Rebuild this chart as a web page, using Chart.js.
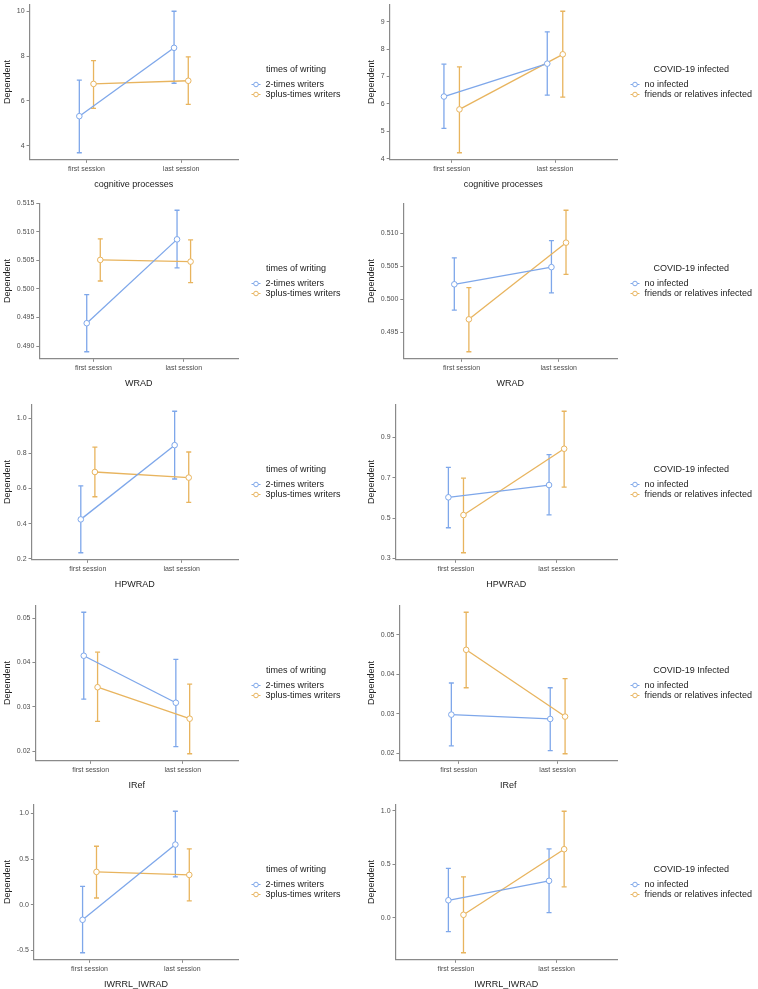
<!DOCTYPE html>
<html>
<head>
<meta charset="utf-8">
<script src="https://cdn.jsdelivr.net/npm/chart.js@4.4.0/dist/chart.umd.min.js"></script>
<style>
  body { margin: 0; background: #fff; }
  #page { position: relative; width: 758px; height: 989px; overflow: hidden; }
  #page canvas { position: absolute; }
</style>
</head>
<body>
<div id="page"></div>
<script>
// categories
const sessions = ['first session', 'last session'];
const writingGroups = ['2-times writers', '3plus-times writers'];
const infectedGroups = ['no infected', 'friends or relatives infected'];

// cognitive processes, times of writing  (rows = groups, cols = sessions)
const cogWritingMean = [[5.32, 8.37], [6.76, 6.90]];
const cogWritingLow = [[3.69, 6.79], [5.67, 5.85]];
const cogWritingHigh = [[6.93, 10.0], [7.80, 7.97]];
const cogWritingTicks = ['4', '6', '8', '10'];

// cognitive processes, COVID-19 infected
const cogInfectedMean = [[6.27, 7.47], [5.80, 7.81]];
const cogInfectedLow = [[5.11, 6.32], [4.22, 6.25]];
const cogInfectedHigh = [[7.45, 8.63], [7.35, 9.38]];
const cogInfectedTicks = ['4', '5', '6', '7', '8', '9'];

// WRAD
const wradWritingMean = [[0.4940, 0.5087], [0.5051, 0.5048]];
const wradWritingLow = [[0.4890, 0.5037], [0.5014, 0.5011]];
const wradWritingHigh = [[0.4990, 0.5138], [0.5088, 0.5086]];
const wradWritingTicks = ['0.490', '0.495', '0.500', '0.505', '0.510', '0.515'];

const wradInfectedMean = [[0.5023, 0.5049], [0.4970, 0.5086]];
const wradInfectedLow = [[0.4984, 0.5010], [0.4921, 0.5038]];
const wradInfectedHigh = [[0.5063, 0.5089], [0.5018, 0.5135]];
const wradInfectedTicks = ['0.495', '0.500', '0.505', '0.510'];

// HPWRAD
const hpwradWritingMean = [[0.424, 0.847], [0.694, 0.662]];
const hpwradWritingLow = [[0.234, 0.654], [0.553, 0.521]];
const hpwradWritingHigh = [[0.615, 1.040], [0.836, 0.808]];
const hpwradWritingTicks = ['0.2', '0.4', '0.6', '0.8', '1.0'];

const hpwradInfectedMean = [[0.603, 0.664], [0.515, 0.844]];
const hpwradInfectedLow = [[0.452, 0.516], [0.328, 0.654]];
const hpwradInfectedHigh = [[0.752, 0.815], [0.698, 1.030]];
const hpwradInfectedTicks = ['0.3', '0.5', '0.7', '0.9'];

// IRef
const irefWritingMean = [[0.0415, 0.0309], [0.0344, 0.0273]];
const irefWritingLow = [[0.0317, 0.0210], [0.0267, 0.0194]];
const irefWritingHigh = [[0.0513, 0.0407], [0.0423, 0.0351]];
const irefWritingTicks = ['0.02', '0.03', '0.04', '0.05'];

const irefInfectedMean = [[0.0298, 0.0287], [0.0462, 0.0293]];
const irefInfectedLow = [[0.0219, 0.0207], [0.0366, 0.0199]];
const irefInfectedHigh = [[0.0378, 0.0366], [0.0557, 0.0389]];
const irefInfectedTicks = ['0.02', '0.03', '0.04', '0.05'];

// IWRRL_IWRAD
const iwrrlWritingMean = [[-0.167, 0.659], [0.359, 0.326]];
const iwrrlWritingLow = [[-0.529, 0.304], [0.072, 0.040]];
const iwrrlWritingHigh = [[0.199, 1.025], [0.641, 0.612]];
const iwrrlWritingTicks = ['-0.5', '0.0', '0.5', '1.0'];

const iwrrlInfectedMean = [[0.164, 0.346], [0.028, 0.642]];
const iwrrlInfectedLow = [[-0.130, 0.049], [-0.327, 0.290]];
const iwrrlInfectedHigh = [[0.463, 0.645], [0.383, 0.997]];
const iwrrlInfectedTicks = ['0.0', '0.5', '1.0'];

const panels = [
    {measure: 'cognitive processes', groups: writingGroups, title: 'times of writing', mean: cogWritingMean, low: cogWritingLow, high: cogWritingHigh, ticks: cogWritingTicks},
    {measure: 'cognitive processes', groups: infectedGroups, title: 'COVID-19 infected', mean: cogInfectedMean, low: cogInfectedLow, high: cogInfectedHigh, ticks: cogInfectedTicks},
    {measure: 'WRAD', groups: writingGroups, title: 'times of writing', mean: wradWritingMean, low: wradWritingLow, high: wradWritingHigh, ticks: wradWritingTicks},
    {measure: 'WRAD', groups: infectedGroups, title: 'COVID-19 infected', mean: wradInfectedMean, low: wradInfectedLow, high: wradInfectedHigh, ticks: wradInfectedTicks},
    {measure: 'HPWRAD', groups: writingGroups, title: 'times of writing', mean: hpwradWritingMean, low: hpwradWritingLow, high: hpwradWritingHigh, ticks: hpwradWritingTicks},
    {measure: 'HPWRAD', groups: infectedGroups, title: 'COVID-19 infected', mean: hpwradInfectedMean, low: hpwradInfectedLow, high: hpwradInfectedHigh, ticks: hpwradInfectedTicks},
    {measure: 'IRef', groups: writingGroups, title: 'times of writing', mean: irefWritingMean, low: irefWritingLow, high: irefWritingHigh, ticks: irefWritingTicks},
    {measure: 'IRef', groups: infectedGroups, title: 'COVID-19 Infected', mean: irefInfectedMean, low: irefInfectedLow, high: irefInfectedHigh, ticks: irefInfectedTicks},
    {measure: 'IWRRL_IWRAD', groups: writingGroups, title: 'times of writing', mean: iwrrlWritingMean, low: iwrrlWritingLow, high: iwrrlWritingHigh, ticks: iwrrlWritingTicks},
    {measure: 'IWRRL_IWRAD', groups: infectedGroups, title: 'COVID-19 infected', mean: iwrrlInfectedMean, low: iwrrlInfectedLow, high: iwrrlInfectedHigh, ticks: iwrrlInfectedTicks}
];

const colors = ['#7ea7ea', '#e8b45e'];
const axisGray = '#8a8a8a';
const font = '"Liberation Sans", Arial, Helvetica, sans-serif';
Chart.defaults.font.family = font;

// where each plot area should start (top), per row
const plotTops = [0, 199, 400, 601, 800];
// left edge of each column's canvas and where its plot area ends
const colLefts = [0, 364];
const plotRights = [238, 617];

// ggplot-like legend: key is a short line with a hollow point
const keyLegend = {
    id: 'keyLegend',
    afterDraw(chart, args, opts) {
        const ctx = chart.ctx;
        const area = chart.chartArea;
        const items = chart.data.datasets.filter(d => d.isMean);
        const x0 = area.right + 13.5;
        const cy = (area.top + area.bottom) / 2;
        ctx.save();
        ctx.font = '9px ' + font;
        ctx.textBaseline = 'middle';
        let maxW = 0;
        items.forEach(d => { maxW = Math.max(maxW, ctx.measureText(d.label).width); });
        ctx.fillStyle = '#222';
        ctx.textAlign = 'center';
        ctx.fillText(opts.title, x0 + (14 + maxW) / 2, cy - 12);
        ctx.textAlign = 'left';
        items.forEach((d, i) => {
            const y = cy + 2.5 + i * 10;
            ctx.strokeStyle = d.borderColor;
            ctx.lineWidth = 1;
            ctx.beginPath();
            ctx.moveTo(x0, y);
            ctx.lineTo(x0 + 9, y);
            ctx.stroke();
            ctx.beginPath();
            ctx.arc(x0 + 4.5, y, 2.3, 0, Math.PI * 2);
            ctx.fillStyle = '#fff';
            ctx.fill();
            ctx.stroke();
            ctx.fillStyle = '#222';
            ctx.fillText(d.label, x0 + 14, y);
        });
        ctx.restore();
    }
};
Chart.register(keyLegend);

function makeChart(p, index) {
    const col = index % 2;
    const row = Math.floor(index / 2);
    const canvas = document.createElement('canvas');
    const w = 758 - colLefts[col] - (col === 0 ? 378 : 0);
    canvas.width = w;
    canvas.height = 200;
    canvas.style.left = colLefts[col] + 'px';
    canvas.style.top = (plotTops[row] - 2) + 'px';
    document.getElementById('page').appendChild(canvas);

    // y range like ggplot: data range with 5% expansion
    const lo = Math.min(...p.low.flat());
    const hi = Math.max(...p.high.flat());
    const pad = (hi - lo) * 0.05;

    let datasets = [];
    p.groups.forEach((g, s) => {
        const dodge = s === 0 ? -0.075 : 0.075;
        datasets.push({
            label: g,
            isMean: true,
            order: 0,
            data: p.mean[s].map((m, k) => ({x: k + 1 + dodge, y: m})),
            borderColor: colors[s],
            borderWidth: 1.3,
            pointRadius: 2.8,
            pointBackgroundColor: '#fff',
            pointBorderColor: colors[s],
            pointBorderWidth: 1
        });
        p.mean[s].forEach((m, k) => {
            datasets.push({
                label: g + ' interval',
                order: 1,
                data: [{x: k + 1 + dodge, y: p.low[s][k]}, {x: k + 1 + dodge, y: p.high[s][k]}],
                borderColor: colors[s],
                borderWidth: 1.3,
                pointStyle: 'line',
                pointRadius: 2.5,
                pointBorderColor: colors[s],
                pointBorderWidth: 1.3
            });
        });
    });

    new Chart(canvas.getContext('2d'), {
        type: 'scatter',
        data: {datasets: datasets},
        options: {
            responsive: false,
            animation: false,
            datasets: {scatter: {showLine: true}},
            layout: {padding: {right: w - (plotRights[col] - colLefts[col]), left: 0, top: 0, bottom: 0}},
            plugins: {
                legend: {display: false},
                tooltip: {enabled: false},
                keyLegend: {title: p.title}
            },
            scales: {
                x: {
                    type: 'linear',
                    min: 0.4,
                    max: 2.6,
                    afterBuildTicks: scale => {
                        scale.ticks = sessions.map((s, i) => ({value: i + 1}));
                    },
                    ticks: {
                        callback: v => sessions[v - 1],
                        font: {size: 7},
                        color: '#4d4d4d',
                        padding: 2,
                        maxRotation: 0,
                        autoSkip: false
                    },
                    grid: {drawOnChartArea: false, drawTicks: true, tickLength: 3, color: axisGray},
                    border: {display: true, color: axisGray, width: 1.2},
                    title: {display: true, text: p.measure, font: {size: 9}, color: '#222', padding: {top: 4, bottom: 8}}
                },
                y: {
                    type: 'linear',
                    min: lo - pad,
                    max: hi + pad,
                    afterBuildTicks: scale => {
                        scale.ticks = p.ticks.map(t => ({value: Number(t)}));
                    },
                    ticks: {
                        callback: v => p.ticks.find(t => Number(t) === v),
                        font: {size: 7},
                        color: '#4d4d4d',
                        padding: 2,
                        autoSkip: false
                    },
                    grid: {drawOnChartArea: false, drawTicks: true, tickLength: 3, color: axisGray},
                    border: {display: true, color: axisGray, width: 1.2},
                    title: {display: true, text: 'Dependent', font: {size: 9}, color: '#222', padding: {top: 2, bottom: 2}}
                }
            }
        }
    });
}

panels.forEach((p, i) => makeChart(p, i));
</script>
</body>
</html>
